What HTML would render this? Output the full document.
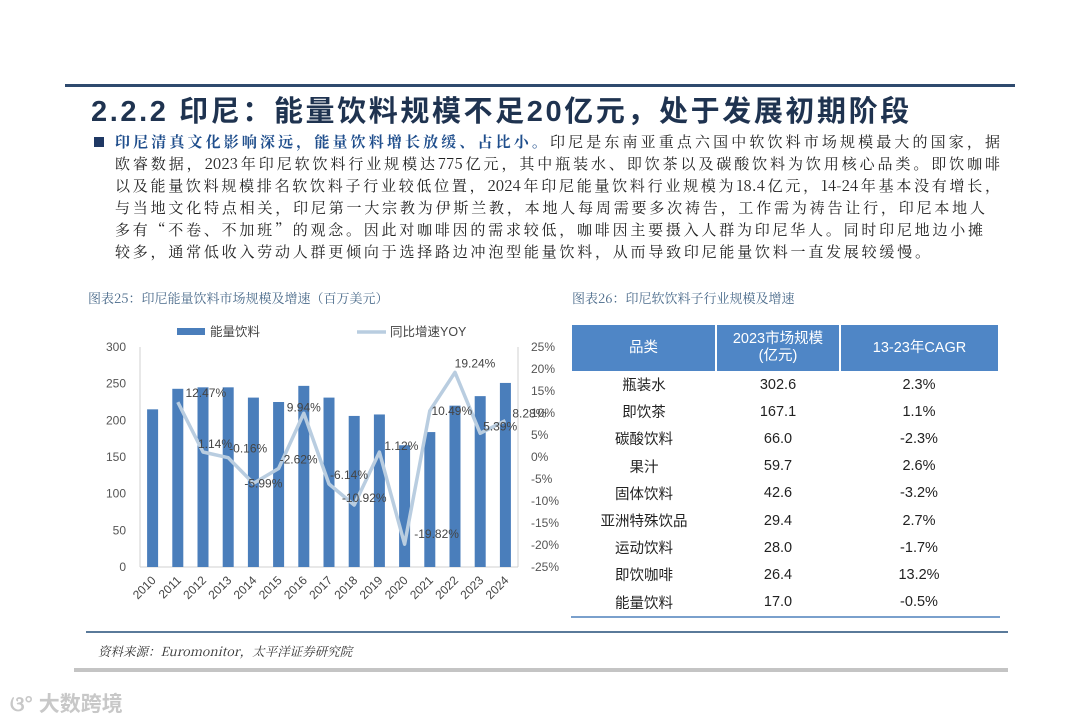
<!DOCTYPE html>
<html><head><meta charset="utf-8">
<style>
body{margin:0;width:1080px;height:723px;background:#fff;position:relative;overflow:hidden;font-family:"Liberation Sans","Noto Sans CJK SC",sans-serif;}
.abs{position:absolute;}
.line{position:absolute;left:115px;width:885px;font-size:15px;color:#222;text-align:justify;text-align-last:justify;white-space:nowrap;line-height:22px;font-family:"Noto Serif CJK SC","Liberation Sans",serif;}
table{border-collapse:collapse;}
td{text-align:center;font-size:14.5px;color:#222;height:27.2px;padding:0;}
th{background:#4f86c6;color:#fff;font-weight:normal;font-size:14.5px;border-left:2px solid #fff;line-height:17px;}
</style></head><body>
<div class="abs" style="left:65px;top:84px;width:950px;height:3px;background:#2f4a6e"></div>
<div class="abs" style="left:91px;top:88px;font-size:29px;font-weight:bold;color:#1f3350;white-space:nowrap;letter-spacing:2.6px">2.2.2 印尼：能量饮料规模不足20亿元，处于发展初期阶段</div>
<div class="abs" style="left:94px;top:137px;width:10px;height:10px;background:#1f3864"></div>
<div>
<div class="line" style="top:131px"><b style="color:#1f4e8c">印尼清真文化影响深远，能量饮料增长放缓、占比小。</b>印尼是东南亚重点六国中软饮料市场规模最大的国家，据</div>
<div class="line" style="top:153px">欧睿数据，2023年印尼软饮料行业规模达775亿元，其中瓶装水、即饮茶以及碳酸饮料为饮用核心品类。即饮咖啡</div>
<div class="line" style="top:175px">以及能量饮料规模排名软饮料子行业较低位置，2024年印尼能量饮料行业规模为18.4亿元，14-24年基本没有增长，</div>
<div class="line" style="top:197px;width:870px">与当地文化特点相关，印尼第一大宗教为伊斯兰教，本地人每周需要多次祷告，工作需为祷告让行，印尼本地人</div>
<div class="line" style="top:219px;width:868px">多有“不卷、不加班”的观念。因此对咖啡因的需求较低，咖啡因主要摄入人群为印尼华人。同时印尼地边小摊</div>
<div class="line" style="top:241px;width:815px">较多，通常低收入劳动人群更倾向于选择路边冲泡型能量饮料，从而导致印尼能量饮料一直发展较缓慢。</div>
</div>
<div class="abs" style="left:88px;top:288px;font-size:13px;color:#4a6a8a;font-family:'Noto Serif CJK SC',serif">图表25：印尼能量饮料市场规模及增速（百万美元）</div>
<div class="abs" style="left:572px;top:288px;font-size:13px;color:#4a6a8a;font-family:'Noto Serif CJK SC',serif">图表26：印尼软饮料子行业规模及增速</div>

<svg class="abs" style="left:0;top:0" width="560" height="630" id="chart"></svg>

<table class="abs" style="left:572px;top:325px;width:426px">
<tr style="height:46px"><th style="width:141px;border-left:none">品类</th><th style="width:120px">2023市场规模<br>(亿元)</th><th>13-23年CAGR</th></tr>
<tr><td>瓶装水</td><td>302.6</td><td>2.3%</td></tr>
<tr><td>即饮茶</td><td>167.1</td><td>1.1%</td></tr>
<tr><td>碳酸饮料</td><td>66.0</td><td>-2.3%</td></tr>
<tr><td>果汁</td><td>59.7</td><td>2.6%</td></tr>
<tr><td>固体饮料</td><td>42.6</td><td>-3.2%</td></tr>
<tr><td>亚洲特殊饮品</td><td>29.4</td><td>2.7%</td></tr>
<tr><td>运动饮料</td><td>28.0</td><td>-1.7%</td></tr>
<tr><td>即饮咖啡</td><td>26.4</td><td>13.2%</td></tr>
<tr><td>能量饮料</td><td>17.0</td><td>-0.5%</td></tr>
</table>
<div class="abs" style="left:571px;top:616px;width:429px;height:2px;background:#7aa0cc"></div>

<div class="abs" style="left:86px;top:631px;width:922px;height:2px;background:#5a7a9a"></div>
<div class="abs" style="left:98px;top:642px;font-size:12.5px;font-style:italic;color:#333;font-family:'Noto Serif CJK SC',serif">资料来源：Euromonitor，太平洋证券研究院</div>
<div class="abs" style="left:74px;top:668px;width:934px;height:4px;background:#c4c4c4"></div>
<div class="abs" style="left:10px;top:688px;font-size:21px;color:#c8c8c8;font-weight:bold">ଓ° 大数跨境</div>

<script>
const years=["2010","2011","2012","2013","2014","2015","2016","2017","2018","2019","2020","2021","2022","2023","2024"];
const sales=[215,243,245,245,231,225,247,231,206,208,166,184,220,233,251];
const yoy=[null,12.47,1.14,-0.16,-5.99,-2.62,9.94,-6.14,-10.92,1.12,-19.82,10.49,19.24,5.39,8.28];
const leftTicks=[0,50,100,150,200,250,300];
const rightTicks=[-25,-20,-15,-10,-5,0,5,10,15,20,25];
const NS="http://www.w3.org/2000/svg";
const svg=document.getElementById('chart');
const x0=140,x1=518,yTop=347,yBot=567;
const step=(x1-x0)/years.length;
const xc=i=>x0+step*(i+0.5);
const yL=v=>yBot-(v/300)*(yBot-yTop);
const yR=v=>yBot-((v+25)/50)*(yBot-yTop);
function mk(t,a){const e=document.createElementNS(NS,t);for(const k in a)e.setAttribute(k,a[k]);svg.appendChild(e);return e;}
let e;
e=mk('line',{x1:x0,y1:yTop,x2:x0,y2:yBot,stroke:'#d0d0d0'});


e=mk('line',{x1:x1,y1:yTop,x2:x1,y2:yBot,stroke:'#d0d0d0'});


e=mk('line',{x1:x0,y1:yBot,x2:x1,y2:yBot,stroke:'#d0d0d0'});


leftTicks.forEach(v=>{const t=mk('text',{x:126,y:yL(v)+4,'text-anchor':'end','font-size':12,fill:'#555'});t.textContent=v;

});
rightTicks.forEach(v=>{const t=mk('text',{x:531,y:yR(v)+4,'font-size':12,fill:'#555'});t.textContent=v+'%';

});
sales.forEach((v,i)=>{const r=mk('rect',{x:xc(i)-5.5,y:yL(v),width:11,height:yBot-yL(v),fill:'#4a7ebb'});

});
years.forEach((y,i)=>{const t=mk('text',{x:xc(i)+4,y:yBot+14,'text-anchor':'end','font-size':12,fill:'#444',transform:`rotate(-45 ${xc(i)+4} ${yBot+14})`});t.textContent=y;

});
let pts=[];yoy.forEach((v,i)=>{if(v!==null)pts.push(xc(i)+','+yR(v));});
e=mk('polyline',{points:pts.join(' '),fill:'none',stroke:'#b9cde0','stroke-width':3.5,'stroke-linejoin':'round'});


const off=[null,[28,-5],[12,-4],[20,-5],[10,4],[20,-5],[0,-2],[20,-5],[10,-3],[22,-2],[32,-6],[22,4],[20,-5],[20,-3],[24,-3]];
yoy.forEach((v,i)=>{if(v===null)return;const t=mk('text',{x:xc(i)+off[i][0],y:yR(v)+off[i][1],'text-anchor':'middle','font-size':12,fill:'#444'});t.textContent=v.toFixed(2)+'%';

});
e=mk('rect',{x:177,y:328,width:28,height:7,fill:'#4a7ebb'});


e=mk('text',{x:210,y:336,'font-size':12.5,fill:'#444'});e.textContent='能量饮料';


e=mk('line',{x1:357,y1:332,x2:386,y2:332,stroke:'#b9cde0','stroke-width':3.5});


e=mk('text',{x:390,y:336,'font-size':12.5,fill:'#444'});e.textContent='同比增速YOY';


</script>
</body></html>
